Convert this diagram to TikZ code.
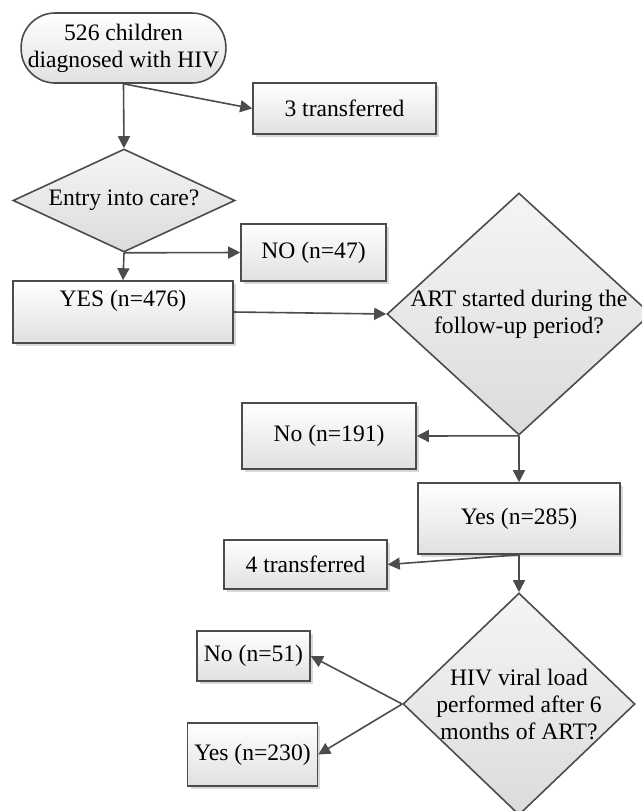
\documentclass[tikz,border=0pt]{standalone}
\usepackage{fontspec}
\setmainfont{Liberation Serif}
\usepackage{tikz}
\usetikzlibrary{shapes, arrows.meta, positioning, shadows}

\tikzset{
  startB/.style={draw=black!70, line width=0.8pt, rounded corners=17pt,
                 top color=white, bottom color=black!12,
                 minimum width=101.5pt, minimum height=35pt, align=center},
  box/.style={rectangle, draw=black!70, line width=0.8pt,
              top color=white, bottom color=black!12, align=center,
              drop shadow={shadow xshift=1.5pt, shadow yshift=-1.5pt,
                           fill=black!30, opacity=0.5}},
  decision/.style={diamond, draw=black!70, line width=0.8pt,
                   top color=white!96!black, bottom color=black!14,
                   inner sep=-3pt, align=center},
  arr/.style={draw=black!70, line width=0.8pt,
              -{Triangle[length=6pt, width=6pt]}},
  every node/.style={font=\fontsize{11.8}{13.5}\selectfont},
}

\begin{document}
\begin{tikzpicture}[x=0.5pt, y=-0.5pt]
    \useasboundingbox (0,0) rectangle (642,811);

    %% start
    \node[startB] (start) at (123.5,48) {526 children\\diagnosed with HIV};
    \node[box, minimum width=91.5pt, minimum height=25.5pt]
          (trans3) at (344.5,108.5) {3 transferred};

    %% first decision
    \node[decision, aspect=2.15, minimum width=111pt, minimum height=51.5pt]
          (entry) at (124,200.5) {Entry into care?};
    \node[box, minimum width=72.5pt, minimum height=28.5pt]
          (no47) at (313.5,252.5) {NO (n=47)};
    \node[box, minimum width=110pt, minimum height=31pt]
          (yes476) at (123,312) {YES (n=476)\\\mbox{}};

    %% second decision
    \node[decision, aspect=1.09, minimum width=132pt, minimum height=121pt]
          (art) at (519,314) {ART started during the\\follow-up period?};
    \node[box, minimum width=87pt, minimum height=33pt]
          (no191) at (329,436) {No (n=191)};
    \node[box, minimum width=101pt, minimum height=35.5pt]
          (yes285) at (519,518.5) {Yes (n=285)};
    \node[box, minimum width=81.5pt, minimum height=24.5pt]
          (trans4) at (305.5,564.5) {4 transferred};

    %% third decision
    \node[decision, aspect=1.05, minimum width=116pt, minimum height=111pt]
          (hiv) at (519,704) {HIV viral load\\performed after 6\\months of ART?};
    \node[box, minimum width=56.5pt, minimum height=25pt]
          (no51) at (253.5,656) {No (n=51)};
    \node[box, minimum width=64.5pt, minimum height=31.5pt]
          (yes230) at (252.5,754.5) {Yes (n=230)};

    %% connectors
    \draw[arr] (start.south) -- (entry.north);
    \draw[arr] (start.south) -- (trans3.west);
    \draw[arr] (entry.south) -- (no47.west);
    \draw[arr] (entry.south) -- (yes476.north);
    \draw[arr] (yes476.east) -- (art.west);
    \draw[arr] (art.south) -- (no191.east);
    \draw[arr] (art.south) -- (yes285.north);
    \draw[arr] (yes285.south) -- (trans4.east);
    \draw[arr] (yes285.south) -- (hiv.north);
    \draw[arr] (hiv.west) -- (no51.east);
    \draw[arr] (hiv.west) -- (yes230.east);
  \end{tikzpicture}
\end{document}
